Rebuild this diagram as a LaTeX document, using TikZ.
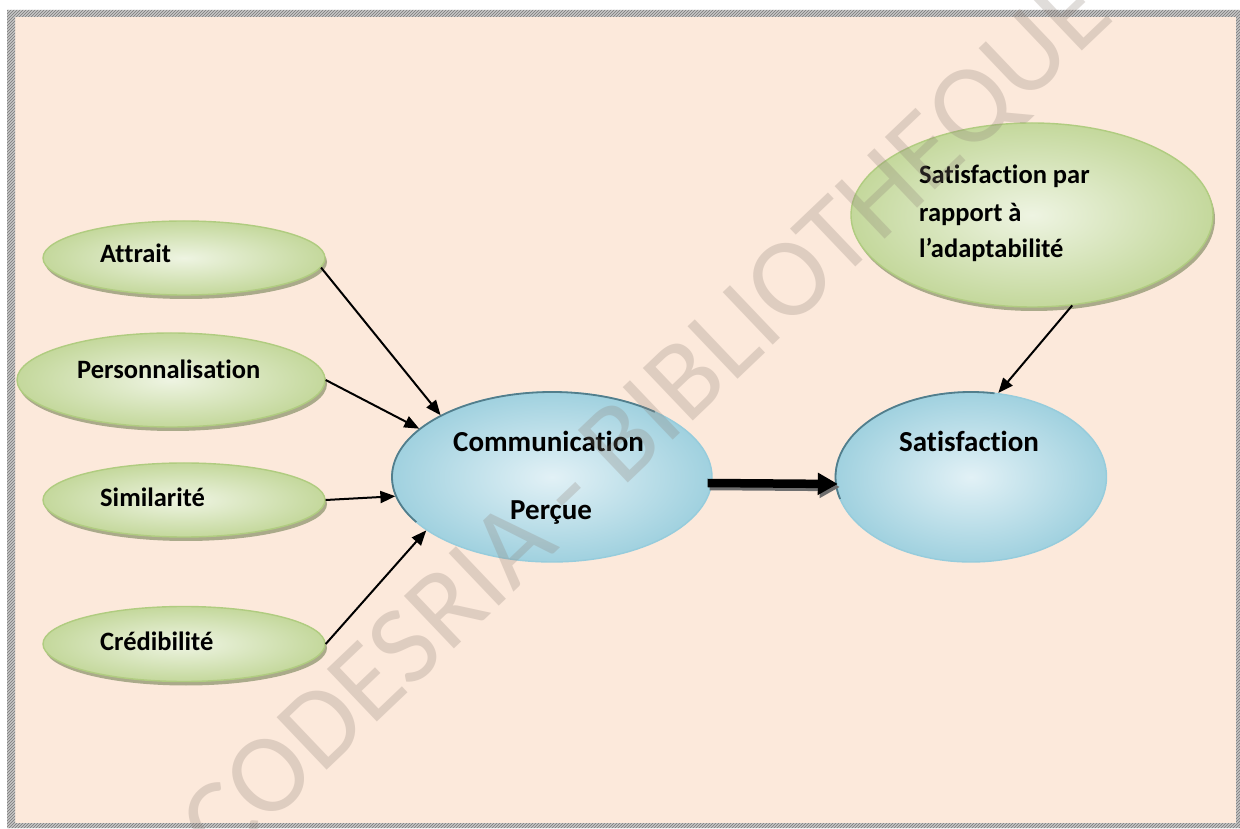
\documentclass[tikz,border=0pt]{standalone}
\usepackage{fontspec}
\setmainfont{Carlito}[Ligatures=NoCommon]
\usetikzlibrary{shapes.geometric,arrows.meta,calc,patterns,shadows}

\definecolor{pagebg}{RGB}{252,233,219}
\definecolor{greenin}{RGB}{238,244,226}
\definecolor{greenout}{RGB}{196,216,156}
\definecolor{greenline}{RGB}{176,204,128}
\definecolor{greenshadow}{RGB}{170,170,138}
\definecolor{bluein}{RGB}{226,241,246}
\definecolor{blueout}{RGB}{160,209,223}
\definecolor{blueline}{RGB}{150,204,220}
\definecolor{bluedark}{RGB}{82,126,140}
\definecolor{markcol}{RGB}{139,125,115}
\definecolor{framefill}{RGB}{198,198,198}
\definecolor{framelines}{RGB}{120,120,120}
\definecolor{arrowshadow}{RGB}{110,110,110}

\begin{document}
\begin{tikzpicture}[x=1pt,y=1pt,
  greenell/.style={ellipse, inner sep=0pt, draw=greenline, line width=1.4pt,
    inner color=greenin, outer color=greenout,
    drop shadow={shadow xshift=2pt, shadow yshift=-4pt, fill=greenshadow, opacity=1}},
  blueell/.style={ellipse, inner sep=0pt, draw=blueline, line width=1.4pt,
    inner color=bluein, outer color=blueout},
  leftlab/.style={font=\bfseries\fontsize{26.5}{30}\selectfont, inner sep=0pt},
  midlab/.style={font=\bfseries\fontsize{29}{32}\selectfont, inner sep=0pt},
  thinarrow/.style={line width=2pt, -{Triangle[length=15pt,width=12pt]}},
  thickarrow/.style={line width=8.5pt, -{Triangle[length=20pt,width=21pt]}},
  thickshadow/.style={arrowshadow, line width=8.5pt, -{Triangle[length=20pt,width=21pt]}},
  watermark/.style={text=markcol, opacity=0.26, font=\fontsize{113}{113}\selectfont, inner sep=0pt}
]
\useasboundingbox (0,0) rectangle (1240,828);

% page and hatched frame
\fill[white] (0,0) rectangle (1240,828);
\fill[pagebg] (15,5) rectangle (1236,811);
\fill[framefill, even odd rule] (7,0) rectangle (1240,818) (15,5) rectangle (1236,811);
\fill[pattern=north east lines, pattern color=framelines, even odd rule]
  (7,0) rectangle (1240,818) (15,5) rectangle (1236,811);

% antecedent ellipses
\node[greenell, minimum width=282pt, minimum height=74pt] (attrait) at (184,570) {};
\node[greenell, minimum width=308pt, minimum height=94pt] (perso) at (171,448) {};
\node[greenell, minimum width=282pt, minimum height=74pt] (simil) at (184,328) {};
\node[greenell, minimum width=282pt, minimum height=75pt] (cred) at (184,184) {};
\node[greenell, minimum width=362pt, minimum height=184pt] (satpar) at (1032,613) {};

% central constructs
\node[blueell, minimum width=320pt, minimum height=170pt] (comm) at (552,351) {};
\draw[bluedark, line width=1.8pt]
  ($(comm.center)+({160*cos(50)},{85*sin(50)})$)
  arc[start angle=50, end angle=212, x radius=160, y radius=85];
\node[blueell, minimum width=271pt, minimum height=170pt] (sat) at (971,351) {};
\draw[bluedark, line width=1.8pt]
  ($(sat.center)+({135.5*cos(80)},{85*sin(80)})$)
  arc[start angle=80, end angle=195, x radius=135.5, y radius=85];

% labels
\node[leftlab, anchor=base west] (attrait-text) at (100,565) {Attrait};
\node[leftlab, anchor=base west] (perso-text) at (77,449) {Personnalisation};
\node[leftlab, anchor=base west] (simil-text) at (100,321) {Similarité};
\node[leftlab, anchor=base west] (cred-text) at (100,177) {Crédibilité};
\node[leftlab, anchor=base west] (satpar-text1) at (919,644) {Satisfaction par};
\node[leftlab, anchor=base west] (satpar-text2) at (919,606) {rapport à};
\node[leftlab, anchor=base west] (satpar-text3) at (919,570) {l’adaptabilité};
\node[midlab, anchor=base west] (comm-text1) at (453,376) {Communication};
\node[midlab, anchor=base west] (comm-text2) at (510,308) {Perçue};
\node[midlab, anchor=base west] (sat-text) at (899,376) {Satisfaction};

% connectors
\draw[thinarrow] (attrait.-4) -- (comm.151);
\draw[thinarrow] (perso.east) -- (comm.160);
\draw[thinarrow] (simil.east) -- (comm.187);
\draw[thinarrow] (cred.east) -- (comm.203);
\draw[thinarrow] (satpar.-66) -- (sat.72);

\coordinate (thick-start) at ($(comm.east)+(-5,-6)$);
\coordinate (thick-end) at ($(sat.west)+(3,-7)$);
\draw[thickshadow] ($(thick-start)+(2,-3)$) -- ($(thick-end)+(2,-3)$);
\draw[thickarrow] (thick-start) -- (thick-end);

% watermark
\node[watermark, rotate=43.6] (mark) at (650,406) {CODESRIA - BIBLIOTHEQUE};
\end{tikzpicture}
\end{document}
